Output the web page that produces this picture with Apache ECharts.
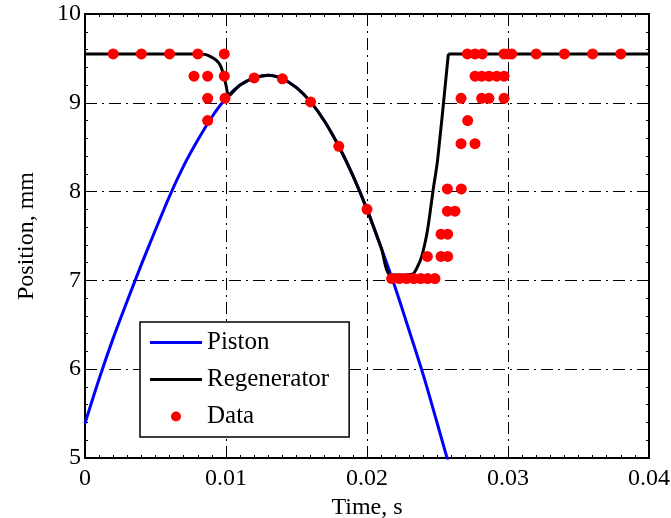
<!DOCTYPE html>
<html>
<head>
<meta charset="utf-8">
<script src="https://cdn.jsdelivr.net/npm/echarts@6/dist/echarts.min.js"></script>
<style>
  html, body { margin: 0; padding: 0; background: #fff; }
  #chart { width: 671px; height: 518px; }
</style>
</head>
<body>
<div id="chart"></div>
<script>
// Piston position, mm, against time, s
const pistonTime = [0, 0.001, 0.002, 0.003, 0.004, 0.005, 0.006, 0.007, 0.008, 0.009, 0.010, 0.011, 0.012, 0.013, 0.014, 0.015, 0.016, 0.017, 0.018, 0.019, 0.020, 0.021, 0.022, 0.023, 0.024, 0.025, 0.026];
const pistonPos  = [5.39, 5.89, 6.35, 6.77, 7.18, 7.57, 7.95, 8.29, 8.58, 8.84, 9.05, 9.20, 9.28, 9.31, 9.27, 9.17, 9.01, 8.79, 8.51, 8.18, 7.80, 7.37, 6.92, 6.43, 5.93, 5.38, 4.82];

// Regenerator position, mm, against time, s (curved part, then the top plateau)
const regenTime = [0, 0.008, 0.0085, 0.0089, 0.0093, 0.0096, 0.0098, 0.0100, 0.0102, 0.0106, 0.011, 0.012, 0.013, 0.014, 0.015, 0.016, 0.017, 0.018, 0.019, 0.020, 0.021, 0.0217, 0.0232, 0.02357, 0.02388, 0.02424, 0.02447, 0.0247, 0.02501, 0.02577];
const regenPos  = [9.55, 9.55, 9.545, 9.52, 9.48, 9.42, 9.33, 9.2, 9.08, 9.14, 9.20, 9.28, 9.31, 9.27, 9.17, 9.01, 8.79, 8.51, 8.18, 7.80, 7.37, 7.06, 7.07, 7.15, 7.27, 7.52, 7.76, 8.03, 8.36, 9.55];
const regenTopTime = [0.02577, 0.04];
const regenTopPos  = [9.55, 9.55];

// Measured positions
const dataTime = [0.002, 0.004, 0.006, 0.008, 0.00988, 0.02712, 0.02766, 0.02818, 0.02972, 0.03002, 0.03026, 0.032, 0.034, 0.036, 0.038,
                  0.00773, 0.0087, 0.00988, 0.02766, 0.02813, 0.02865, 0.0292, 0.02972,
                  0.0087, 0.00993, 0.02667, 0.02813, 0.02865, 0.02972,
                  0.0087, 0.02714,
                  0.012, 0.014, 0.016, 0.018, 0.020,
                  0.02667, 0.02766,
                  0.0257, 0.02669,
                  0.0257, 0.02624,
                  0.02525, 0.02572,
                  0.02428, 0.02525, 0.02572,
                  0.02175, 0.02229, 0.02281, 0.02333, 0.02381, 0.0243, 0.02482];
const dataPos  = [9.55, 9.55, 9.55, 9.55, 9.55, 9.55, 9.55, 9.55, 9.55, 9.55, 9.55, 9.55, 9.55, 9.55, 9.55,
                  9.30, 9.30, 9.30, 9.30, 9.30, 9.30, 9.30, 9.30,
                  9.05, 9.05, 9.05, 9.05, 9.05, 9.05,
                  8.80, 8.80,
                  9.28, 9.27, 9.01, 8.51, 7.80,
                  8.54, 8.54,
                  8.03, 8.03,
                  7.78, 7.78,
                  7.52, 7.52,
                  7.27, 7.27, 7.27,
                  7.02, 7.02, 7.02, 7.02, 7.02, 7.02, 7.02];

const xTickLabels = ['0', '0.01', '0.02', '0.03', '0.04'];
const yTickLabels = ['5', '6', '7', '8', '9', '10'];

const zip = (a, b) => a.map((v, i) => [v, b[i]]);

const FONT = 'Liberation Serif';
const FS = 24;
const gridDash = [12, 5, 2, 5];
const lineIcon = 'path://M0,0 L52,0 L52,3 L0,3 Z';

const frameAxis = (extra) => Object.assign({
  type: 'value',
  axisLine: { show: true, onZero: false, lineStyle: { color: '#000', width: 2 } },
  axisTick: { show: true, inside: true, length: 6, lineStyle: { color: '#000', width: 1 } },
  minorSplitLine: { show: false }
}, extra);

const chart = echarts.init(document.getElementById('chart'), null, { renderer: 'canvas' });

chart.setOption({
  animation: false,
  backgroundColor: '#fff',
  grid: { left: 85, top: 14, right: 22, bottom: 60, containLabel: false, outerBoundsMode: 'none' },
  xAxis: [
    frameAxis({
      position: 'bottom', min: 0, max: 0.04, interval: 0.01,
      minorTick: { show: true, splitNumber: 10, length: 3, lineStyle: { color: '#000', width: 1 } },
      name: 'Time, s', nameLocation: 'middle', nameGap: 32,
      nameTextStyle: { fontFamily: FONT, fontSize: FS, color: '#000' },
      axisLabel: {
        margin: 9, fontFamily: FONT, fontSize: FS, color: '#000',
        formatter: v => xTickLabels[Math.round(v / 0.01)]
      },
      splitLine: { show: true, lineStyle: { color: '#000', width: 1, type: gridDash } }
    }),
    frameAxis({
      position: 'top', min: 0, max: 0.04, interval: 0.01,
      minorTick: { show: true, splitNumber: 10, length: 3, lineStyle: { color: '#000', width: 1 } },
      axisLabel: { show: false }, splitLine: { show: false }
    })
  ],
  yAxis: [
    frameAxis({
      position: 'left', min: 5, max: 10, interval: 1,
      minorTick: { show: true, splitNumber: 5, length: 3, lineStyle: { color: '#000', width: 1 } },
      name: 'Position, mm', nameLocation: 'middle', nameGap: 46,
      nameTextStyle: { fontFamily: FONT, fontSize: FS, color: '#000' },
      axisLabel: {
        margin: 4, fontFamily: FONT, fontSize: FS, color: '#000',
        formatter: v => yTickLabels[Math.round(v - 5)]
      },
      splitLine: { show: true, lineStyle: { color: '#000', width: 1, type: gridDash } }
    }),
    frameAxis({
      position: 'right', min: 5, max: 10, interval: 1,
      minorTick: { show: true, splitNumber: 5, length: 3, lineStyle: { color: '#000', width: 1 } },
      axisLabel: { show: false }, splitLine: { show: false }
    })
  ],
  legend: {
    orient: 'vertical',
    left: 140, top: 322,
    padding: [8, 20, 8, 10],
    itemGap: 12,
    itemWidth: 52, itemHeight: 10,
    backgroundColor: '#fff',
    borderColor: '#000', borderWidth: 1.5, borderRadius: 0,
    textStyle: { fontFamily: FONT, fontSize: 25, color: '#000' },
    data: [
      { name: 'Piston', icon: lineIcon },
      { name: 'Regenerator', icon: lineIcon },
      { name: 'Data', icon: 'circle' }
    ]
  },
  series: [
    {
      name: 'Piston', type: 'line', data: zip(pistonTime, pistonPos),
      showSymbol: false, symbol: 'none', smooth: 0.3, clip: true,
      lineStyle: { color: '#0000ff', width: 3 }, itemStyle: { color: '#0000ff' }, z: 2
    },
    {
      name: 'Regenerator', type: 'line', data: zip(regenTime, regenPos),
      showSymbol: false, symbol: 'none', smooth: 0.3,
      lineStyle: { color: '#000', width: 3 }, itemStyle: { color: '#000' }, z: 3
    },
    {
      name: 'Regenerator', type: 'line', data: zip(regenTopTime, regenTopPos),
      showSymbol: false, symbol: 'none',
      lineStyle: { color: '#000', width: 3 }, itemStyle: { color: '#000' }, z: 3
    },
    {
      name: 'Data', type: 'scatter', data: zip(dataTime, dataPos),
      symbol: 'circle', symbolSize: 11,
      itemStyle: { color: '#ff0000', opacity: 1 }, z: 4
    }
  ]
});
</script>
</body>
</html>
